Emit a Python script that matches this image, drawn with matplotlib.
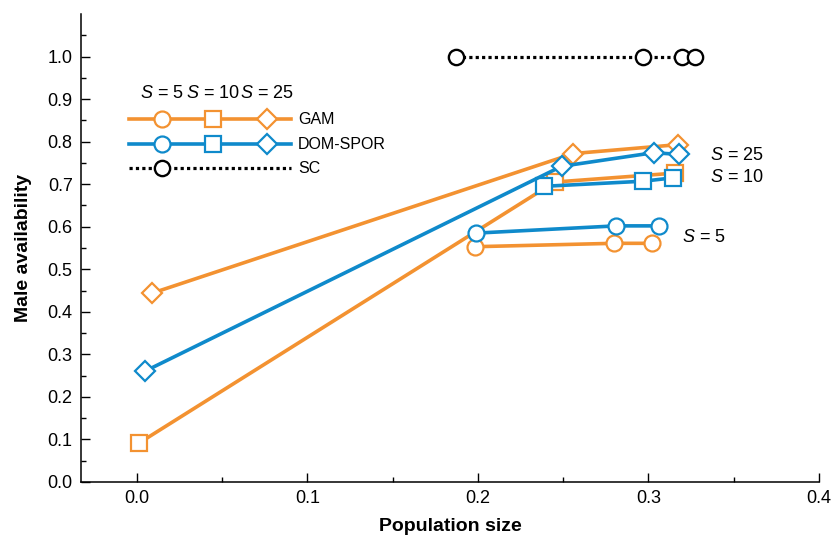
import matplotlib
matplotlib.use("Agg")
import matplotlib.pyplot as plt

plt.rcParams['font.family'] = ['Liberation Sans', 'DejaVu Sans']
plt.rcParams['mathtext.fontset'] = 'custom'
plt.rcParams['mathtext.it'] = 'Liberation Sans:italic'
plt.rcParams['mathtext.rm'] = 'Liberation Sans'

ORANGE = '#F39231'
BLUE = '#0F8ACB'

# GAM series
gam_s5_x = [0.198, 0.2795, 0.302]
gam_s5_y = [0.553, 0.561, 0.561]
gam_s10_x = [0.001, 0.245, 0.3155]
gam_s10_y = [0.091, 0.705, 0.726]
gam_s25_x = [0.009, 0.256, 0.3175]
gam_s25_y = [0.444, 0.772, 0.793]

# DOM-SPOR series
dom_s5_x = [0.199, 0.281, 0.306]
dom_s5_y = [0.585, 0.602, 0.602]
dom_s10_x = [0.2387, 0.297, 0.3146]
dom_s10_y = [0.695, 0.707, 0.715]
dom_s25_x = [0.005, 0.249, 0.303, 0.318]
dom_s25_y = [0.261, 0.742, 0.774, 0.770]

# SC series
sc_x = [0.187, 0.2966, 0.3194, 0.327]
sc_y = [1.0, 1.0, 1.0, 1.0]

xticks = [0.0, 0.1, 0.2, 0.3, 0.4]
yticks = [0.0, 0.1, 0.2, 0.3, 0.4, 0.5, 0.6, 0.7, 0.8, 0.9, 1.0]

fig = plt.figure(figsize=(8.32, 5.36), dpi=100)
ax = fig.add_axes([81/832, 54/536, 738/832, 468/536])

lw = 2.6
ms = 11.5
dms = 10.5
mew = 1.6
common = dict(lw=lw, mew=mew, mfc='white')

ax.plot(gam_s5_x, gam_s5_y, color=ORANGE, marker='o', ms=ms, **common)
ax.plot(gam_s10_x, gam_s10_y, color=ORANGE, marker='s', ms=ms, **common)
ax.plot(gam_s25_x, gam_s25_y, color=ORANGE, marker='D', ms=dms, **common)
ax.plot(dom_s5_x, dom_s5_y, color=BLUE, marker='o', ms=ms, **common)
ax.plot(dom_s10_x, dom_s10_y, color=BLUE, marker='s', ms=ms, **common)
ax.plot(dom_s25_x, dom_s25_y, color=BLUE, marker='D', ms=dms, **common)
ax.plot(sc_x, sc_y, color='black', marker='o', ls=(0, (1, 1)), lw=2.3, ms=11,
        mew=1.7, mfc='white', dash_capstyle='butt')

# Series labels
ax.text(0.336, 0.768, '$S$ = 25', fontsize=13, va='center', ha='left')
ax.text(0.336, 0.716, '$S$ = 10', fontsize=13, va='center', ha='left')
ax.text(0.3197, 0.575, '$S$ = 5', fontsize=13, va='center', ha='left')

# Manual legend
T = ax.transAxes
lx0, lx1 = 0.065, 0.2846
mx = [0.1093, 0.1785, 0.2524]
rows = [(0.775, ORANGE, 'GAM'), (0.722, BLUE, 'DOM-SPOR')]
for y, c, lab in rows:
    ax.plot([lx0, lx1], [y, y], color=c, lw=lw, transform=T, clip_on=False)
    for m, mk in zip(mx, ['o', 's', 'D']):
        ax.plot([m], [y], marker=mk, color=c, ms=(dms if mk == 'D' else ms), mew=mew,
                mfc='white', transform=T, clip_on=False)
    ax.text(0.294, y, lab, transform=T, fontsize=11.5, va='center', ha='left')
ax.plot([lx0, lx1], [0.670, 0.670], color='black', lw=2.3, ls=(0, (1, 1)),
        transform=T, clip_on=False)
ax.plot([mx[0]], [0.670], marker='o', color='black', ms=11, mew=1.7, mfc='white',
        transform=T, clip_on=False)
ax.text(0.294, 0.670, 'SC', transform=T, fontsize=11.5, va='center', ha='left')
for m, lab in zip(mx, ['$S$ = 5', '$S$ = 10', '$S$ = 25']):
    ax.text(m, 0.831, lab, transform=T, fontsize=13, va='center', ha='center')

ax.set_xlim(-0.0328, 0.4)
ax.set_ylim(0, 1.1)
ax.set_xticks(xticks)
ax.set_xticklabels([f'{v:.1f}' for v in xticks])
ax.set_yticks(yticks)
ax.set_yticklabels([f'{v:.1f}' for v in yticks])
ax.set_xticks([0.05, 0.15, 0.25, 0.35], minor=True)
ax.set_yticks([0.05 + 0.1 * i for i in range(11)], minor=True)

for s in ['top', 'right']:
    ax.spines[s].set_visible(False)
for s in ['left', 'bottom']:
    ax.spines[s].set_linewidth(1.1)
ax.tick_params(which='major', direction='in', length=6.5, width=1.0, labelsize=13, pad=6)
ax.tick_params(which='minor', direction='in', length=3.5, width=1.0)

ax.set_xlabel('Population size', fontsize=14, fontweight='bold', labelpad=8)
ax.set_ylabel('Male availability', fontsize=14, fontweight='bold', labelpad=11)

fig.savefig('out.png', dpi=100)
